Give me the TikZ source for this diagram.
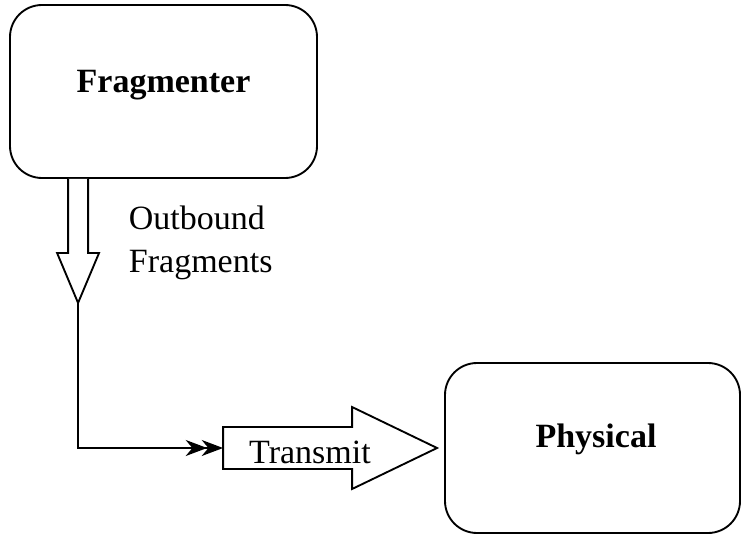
\documentclass[tikz,border=0pt]{standalone}
\usepackage{fontspec}
\setmainfont{Liberation Serif}
\usetikzlibrary{arrows.meta,calc}
\begin{document}
\begin{tikzpicture}[x=0.75pt,y=-0.75pt,line width=1.4pt,
  block/.style={draw,rounded corners=24pt,inner sep=0pt},
  title/.style={font=\fontsize{25.5}{30}\selectfont\bfseries,inner sep=0pt},
  plain/.style={font=\fontsize{25.5}{32.25}\selectfont,inner sep=0pt},
  hollow/.style={draw,fill=white,line join=miter},
  twohead/.style={-{Stealth[length=16pt,width=12pt,inset=5pt,sep=-4pt]Stealth[length=16pt,width=12pt,inset=5pt]}}]
\useasboundingbox (0,0) rectangle (742,535);

% the two stages
\node[block,minimum width=230.25pt,minimum height=129.75pt] (frag) at (163.5,91.5) {};
\node[title,anchor=base] (fragtext) at (163.5,93) {Fragmenter};
\node[block,minimum width=221.25pt,minimum height=127.5pt] (phys) at (592.5,448) {};
\node[title,anchor=base] (phystext) at (596,447) {Physical};

% hollow arrow leaving the fragmenter
\coordinate (dtop) at ($(frag.south west)+(69,0)$);
\draw[hollow] ($(dtop)+(-10,0)$) -- ++(0,74) -- ++(-11,0) -- ++(21,50) coordinate (dtip)
  -- ++(21,-50) -- ++(-11,0) -- ++(0,-74);
\node[plain,align=left,anchor=base west] (outlbl) at (128,272) {Outbound\\Fragments};

% hollow arrow entering the physical stage
\coordinate (ttip) at ($(phys.west)+(-7,0)$);
\draw[hollow] (ttip) -- ++(-85,-41) -- ++(0,20) -- ++(-129,0)
  -- ++(0,42) -- ++(129,0) -- ++(0,20) -- cycle;
\coordinate (tin) at ($(ttip)+(-214,0)$);
\node[plain,anchor=base] (translbl) at (310,463) {Transmit};

% link between the two arrows
\draw[twohead] (dtip) |- (tin);
\end{tikzpicture}
\end{document}
